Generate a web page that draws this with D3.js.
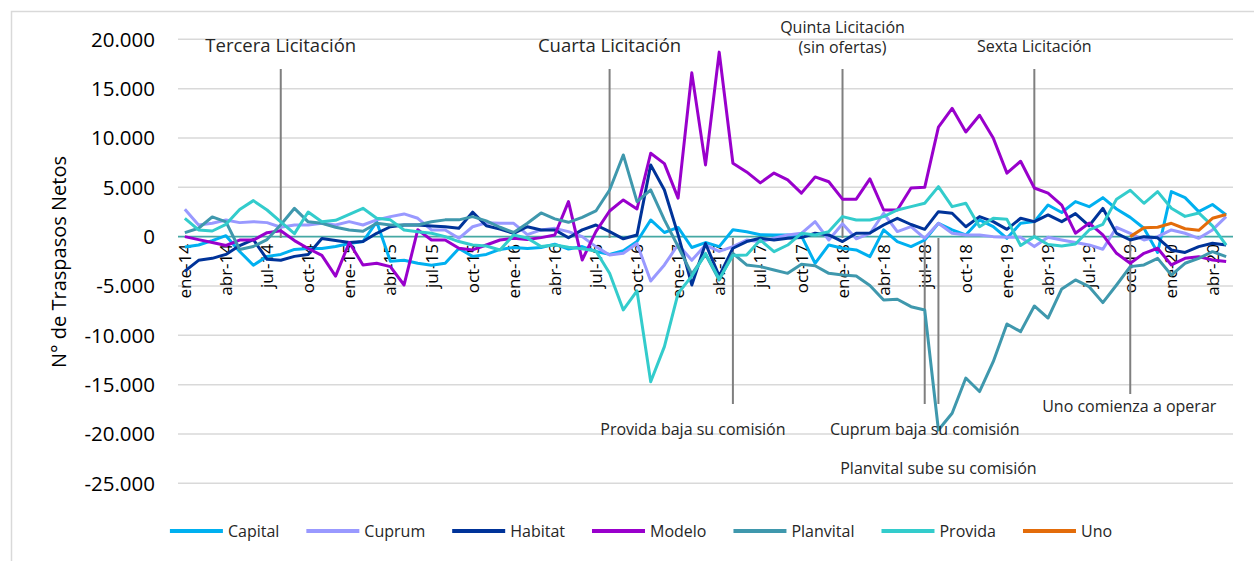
<!DOCTYPE html>
<html>
<head>
<meta charset="utf-8">
<script src="https://cdn.jsdelivr.net/npm/d3@7"></script>
<style>
  body { margin: 0; background: #fff; }
  text { font-family: "Open Sans", sans-serif; }
</style>
</head>
<body>
<svg id="chart" width="1254" height="561"></svg>
<script>
const months = [
  "ene-14","feb-14","mar-14","abr-14","may-14","jun-14","jul-14","ago-14","sep-14","oct-14","nov-14","dic-14",
  "ene-15","feb-15","mar-15","abr-15","may-15","jun-15","jul-15","ago-15","sep-15","oct-15","nov-15","dic-15",
  "ene-16","feb-16","mar-16","abr-16","may-16","jun-16","jul-16","ago-16","sep-16","oct-16","nov-16","dic-16",
  "ene-17","feb-17","mar-17","abr-17","may-17","jun-17","jul-17","ago-17","sep-17","oct-17","nov-17","dic-17",
  "ene-18","feb-18","mar-18","abr-18","may-18","jun-18","jul-18","ago-18","sep-18","oct-18","nov-18","dic-18",
  "ene-19","feb-19","mar-19","abr-19","may-19","jun-19","jul-19","ago-19","sep-19","oct-19","nov-19","dic-19",
  "ene-20","feb-20","mar-20","abr-20","may-20"
];

const capital = [-1050,-850,-400,100,-1500,-2900,-2000,-1800,-1300,-1200,-1200,-1000,
  -700,-500,1500,-2500,-2400,-2700,-2900,-2700,-1200,-2000,-1800,-1300,
  -1100,-1200,-1100,-760,-1260,-1010,-1500,-1800,-1430,-500,1690,420,
  930,-1100,-600,-1010,700,500,200,170,170,70,-2700,-840,
  -1180,-1350,-2030,680,-510,-1010,-340,1350,680,170,1690,1010,
  -170,1350,1520,3210,2450,3550,3040,3950,2800,1950,850,-1600,
  4560,3950,2530,3260,2200];

const cuprum = [2770,1180,1350,1690,1420,1520,1420,950,1180,1180,1350,1180,
  1520,1180,1700,2030,2300,1860,680,680,-170,1000,1400,1350,
  1350,200,680,840,510,0,-1010,-1860,-1690,-700,-4500,-2870,
  -800,-2400,-850,-1500,-1010,-340,-510,-170,170,340,1520,-340,
  1300,-220,320,2370,510,1010,-170,1350,340,170,170,0,
  -70,-70,-1010,-70,-340,-600,-840,-1280,950,340,-340,0,
  680,340,-170,680,2030];

const habitat = [-3500,-2400,-2200,-1800,-900,-300,-2300,-2400,-2000,-1800,-200,-400,
  -600,-500,340,1000,1180,1180,1080,1000,850,2480,1100,760,
  340,1000,680,680,-120,680,1180,500,-220,170,7270,4730,
  200,-4900,-700,-4000,-1180,-500,-170,-340,-170,-100,340,170,
  -500,340,370,1180,1860,1230,740,2530,2370,1000,2030,1520,
  740,1860,1520,2200,1520,2330,1100,2870,330,-340,0,-120,
  -1350,-1600,-1010,-670,-850];

const modelo = [0,-300,-600,-900,-350,-350,400,600,-400,-1200,-1900,-4000,
  -600,-2870,-2700,-3040,-4900,700,-340,-340,-1180,-1350,-850,-340,
  -170,-300,-100,170,3550,-2370,500,2600,3720,2800,8450,7400,
  3900,16600,7270,18700,7440,6560,5450,6440,5750,4410,6050,5560,
  3800,3800,5850,2700,2700,4930,5000,11100,13000,10600,12300,10000,
  6440,7640,4930,4400,3200,350,1370,170,-1690,-2700,-1690,-1180,
  -2870,-2200,-2030,-2370,-2530];

const planvital = [400,850,2000,1500,-1300,-1000,-300,1200,2870,1500,1350,950,
  680,550,1350,1180,1180,1180,1500,1700,1700,2030,1600,950,
  420,1350,2400,1800,1450,1950,2600,4730,8280,3550,4730,1700,
  -1000,-3800,-1800,-4400,-1690,-2870,-3040,-3380,-3720,-2800,-2950,-3720,
  -3890,-3990,-4950,-6420,-6350,-7100,-7430,-19600,-17900,-14330,-15700,-12670,
  -8850,-9630,-7030,-8250,-5300,-4390,-5070,-6690,-4900,-3040,-2870,-2200,
  -3890,-2700,-2200,-1520,-2030];

const provida = [1860,680,570,1250,2750,3650,2700,1500,300,2500,1500,1650,
  2250,2870,1860,1700,680,500,340,0,-500,-850,-950,-1350,
  170,-150,-1000,-850,-1080,-1220,-1450,-3720,-7430,-5500,-14700,-11150,
  -5750,-4000,-1700,-4300,-1900,-1860,-340,-1520,-850,340,170,510,
  2030,1690,1690,2030,2700,3040,3380,5070,3040,3380,1010,1860,
  1750,-900,0,-800,-950,-750,680,1250,3800,4700,3380,4560,
  2870,2050,2400,1100,-850];

const uno = [null,null,null,null,null,null,null,null,null,null,null,null,
  null,null,null,null,null,null,null,null,null,null,null,null,
  null,null,null,null,null,null,null,null,null,null,null,null,
  null,null,null,null,null,null,null,null,null,null,null,null,
  null,null,null,null,null,null,null,null,null,null,null,null,
  null,null,null,null,null,null,null,null,null,0,900,950,
  1350,800,640,1860,2250];

const seriesNames = ["Capital","Cuprum","Habitat","Modelo","Planvital","Provida","Uno"];
const seriesValues = [capital, cuprum, habitat, modelo, planvital, provida, uno];
const seriesColors = ["#00b0f0","#9999ff","#003399","#9900cc","#3f98ad","#33cccc","#e36c0a"];

const yTicks = [20000,15000,10000,5000,0,-5000,-10000,-15000,-20000,-25000];

const topNoteText = [["Tercera Licitación"],["Cuarta Licitación"],["Quinta Licitación","(sin ofertas)"],["Sexta Licitación"]];
const topNoteMonth = ["ago-14","ago-16","ene-18","mar-19"];
const lowNoteText = ["Provida baja su comisión","Cuprum baja su comisión","Planvital sube su comisión","Uno comienza a operar"];
const lowNoteMonth = ["may-17","jul-18","ago-18","oct-19"];

const svg = d3.select("#chart");

const x = d3.scalePoint().domain(months).range([178, 1233]).padding(0.5);
const y = d3.scaleLinear().domain([-25000, 20000]).range([483.3, 39.3]);

const esLocale = d3.formatLocale({decimal: ",", thousands: ".", grouping: [3], currency: ["", "€"], minus: "-"});
const fmt = esLocale.format(",d");

// outer frame
svg.append("rect")
  .attr("x", 11.5).attr("y", 11.5)
  .attr("width", 1300).attr("height", 600)
  .attr("fill", "none").attr("stroke", "#d9d9d9").attr("stroke-width", 1.5);

// gridlines
svg.append("g").selectAll("line")
  .data(yTicks.filter(d => d !== 0))
  .join("line")
  .attr("x1", 178).attr("x2", 1233)
  .attr("y1", d => y(d)).attr("y2", d => y(d))
  .attr("stroke", "#d9d9d9").attr("stroke-width", 1.5);

// y tick labels
svg.append("g").selectAll("text")
  .data(yTicks)
  .join("text")
  .attr("x", 155).attr("y", d => y(d))
  .attr("dy", "0.36em")
  .attr("text-anchor", "end")
  .attr("font-size", 20.5)
  .attr("fill", "#000")
  .text(d => fmt(d));

// y title
svg.append("text")
  .attr("transform", "translate(66,262) rotate(-90)")
  .attr("text-anchor", "middle")
  .attr("font-size", 20)
  .attr("fill", "#000")
  .text("N° de Traspasos Netos");

// x labels (every third month)
svg.append("g").selectAll("text")
  .data(months.filter((m, i) => i % 3 === 0))
  .join("text")
  .attr("transform", d => `translate(${x(d)},244) rotate(-90)`)
  .attr("dy", "0.36em")
  .attr("text-anchor", "end")
  .attr("font-size", 17)
  .attr("fill", "#000")
  .text(d => d);

// zero line
svg.append("line")
  .attr("x1", 178).attr("x2", 1233)
  .attr("y1", y(0)).attr("y2", y(0))
  .attr("stroke", "#45a8a4").attr("stroke-width", 1.8);

// annotation lines (behind series)
const noteColor = "#7f7f7f";
svg.append("g").selectAll("line")
  .data(topNoteMonth)
  .join("line")
  .attr("x1", d => x(d)).attr("x2", d => x(d))
  .attr("y1", 69).attr("y2", 238)
  .attr("stroke", noteColor).attr("stroke-width", 2);

const lowLineEnd = [404, 404, 404, 394];
svg.append("g").selectAll("line")
  .data(lowNoteMonth)
  .join("line")
  .attr("x1", d => x(d)).attr("x2", d => x(d))
  .attr("y1", 238).attr("y2", (d, i) => lowLineEnd[i])
  .attr("stroke", noteColor).attr("stroke-width", 2);

// series
const line = d3.line()
  .defined(d => d.v !== null)
  .x(d => x(d.m))
  .y(d => y(d.v));

svg.append("g").selectAll("path")
  .data(seriesValues.map((vals, k) => ({name: seriesNames[k], color: seriesColors[k], pts: vals.map((v, i) => ({m: months[i], v}))})))
  .join("path")
  .attr("fill", "none")
  .attr("stroke", d => d.color)
  .attr("stroke-width", 3)
  .attr("stroke-linejoin", "round")
  .attr("d", d => line(d.pts));

// annotation texts
const topSize = [18.5, 18.5, 16, 16];
const topG = svg.append("g").attr("fill", "#262626");
topNoteText.forEach((lines, k) => {
  const cx = x(topNoteMonth[k]);
  const base = lines.length === 2 ? 33 : 52;
  lines.forEach((t, j) => {
    topG.append("text")
      .attr("x", cx).attr("y", base + j * 20)
      .attr("text-anchor", "middle")
      .attr("font-size", topSize[k])
      .text(t);
  });
});

const lowOffset = [-40, 0, 0, -1];
const lowBase = [435, 435, 474, 412];
svg.append("g").attr("font-size", 16).attr("fill", "#262626")
  .selectAll("text")
  .data(lowNoteText)
  .join("text")
  .attr("x", (d, i) => x(lowNoteMonth[i]) + lowOffset[i])
  .attr("y", (d, i) => lowBase[i])
  .attr("text-anchor", "middle")
  .text(d => d);

// legend
const legend = svg.append("g");
let lx = 0;
seriesNames.forEach((name, k) => {
  const g = legend.append("g");
  g.append("line")
    .attr("x1", 0).attr("x2", 53)
    .attr("y1", 0).attr("y2", 0)
    .attr("stroke", seriesColors[k]).attr("stroke-width", 4);
  const t = g.append("text")
    .attr("x", 58).attr("dy", "0.36em")
    .attr("font-size", 16).attr("fill", "#262626")
    .text(name);
  g.attr("transform", `translate(${lx},0)`);
  lx += 58 + t.node().getComputedTextLength() + 27;
});
const legendWidth = lx - 27;
legend.attr("transform", `translate(${641 - legendWidth / 2},531)`);
</script>
</body>
</html>
